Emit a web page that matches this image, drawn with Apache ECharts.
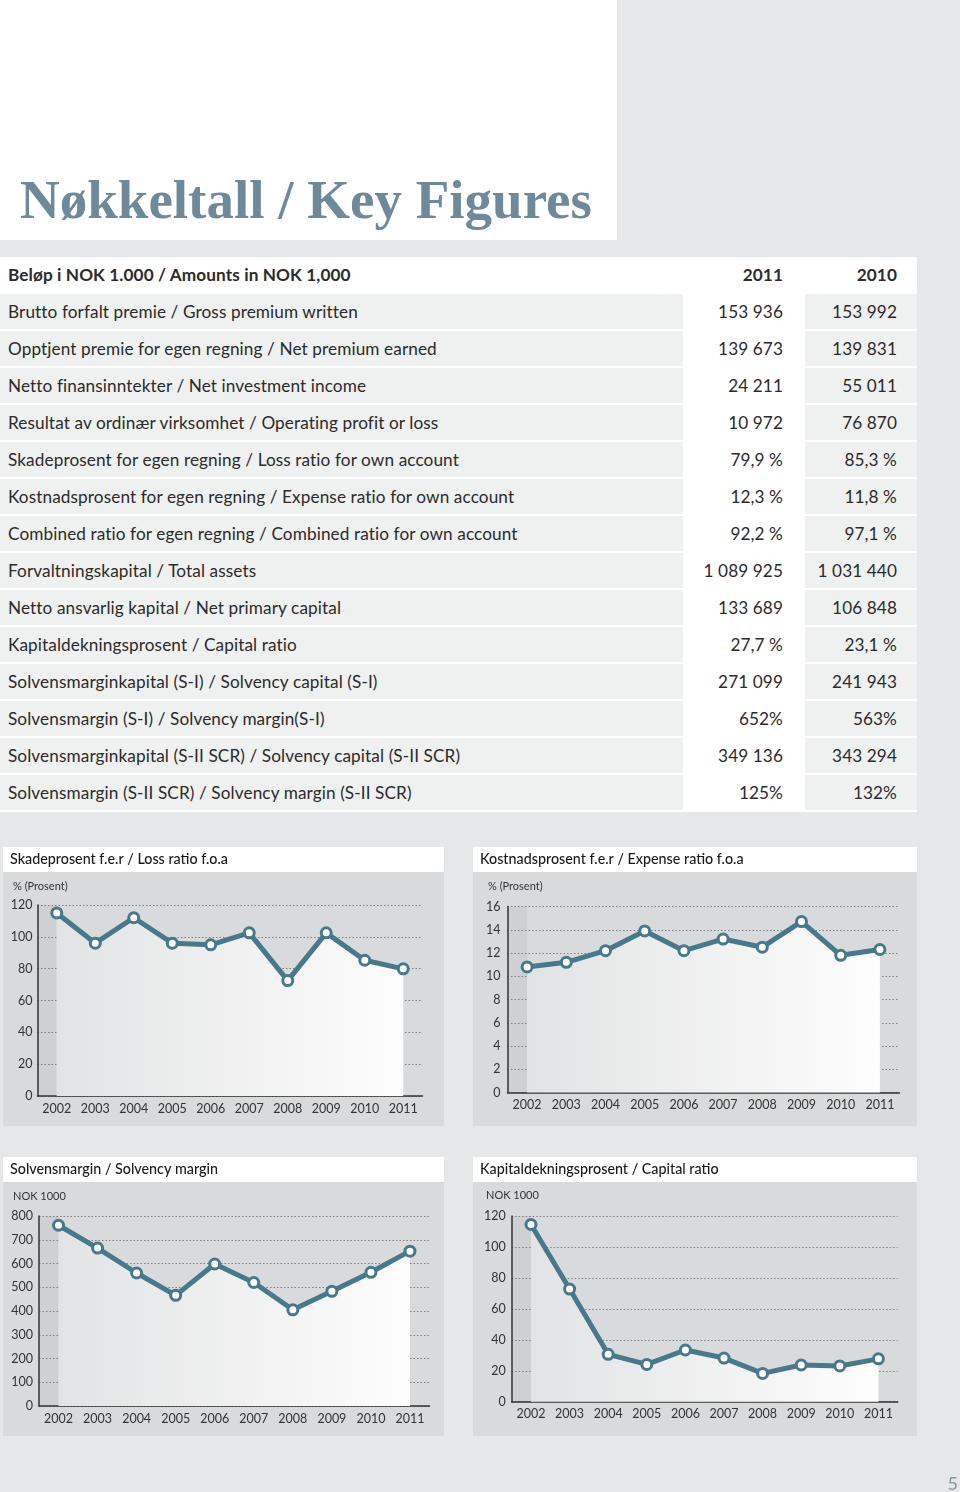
<!DOCTYPE html>
<html>
<head>
<meta charset="utf-8">
<script src="https://cdn.jsdelivr.net/npm/echarts@6/dist/echarts.min.js"></script>
<style>
  html,body{margin:0;padding:0;}
  body{width:960px;height:1492px;background:#e6e7e9;position:relative;overflow:hidden;font-family:Lato,"Open Sans",sans-serif;color:#2b2b2b;}
  #chart{position:absolute;left:0;top:0;width:960px;height:1492px;z-index:1;}
  #titlebox{position:absolute;left:0;top:0;width:617px;height:240px;background:#fff;z-index:2;}
  #titlebox .t{position:absolute;left:20px;top:165px;font:bold 55px "Liberation Serif","DejaVu Serif",serif;color:#6e8a9a;white-space:nowrap;line-height:70px;}
  #table{position:absolute;left:0;top:257px;width:917px;height:555px;background:#fff;z-index:2;}
  .row{position:absolute;left:0;width:917px;height:35px;font-size:17.2px;line-height:35px;letter-spacing:0.1px;}
  .lab{position:absolute;left:0;top:0;width:683px;height:35px;}
  .lab span{position:absolute;left:8px;white-space:nowrap;}
  .c11{position:absolute;left:683px;width:100px;text-align:right;top:0;height:35px;}
  .c10bg{position:absolute;left:805px;width:112px;top:0;height:35px;}
  .c10{position:absolute;left:805px;width:92px;text-align:right;top:0;height:35px;}
  .grey{background:#eff0f0;}
  .hdr{font-weight:bold;}
</style>
</head>
<body>
<div id="chart"></div>
<div id="titlebox"><div class="t">Nøkkeltall / Key Figures</div></div>
<div id="table"></div>
<script>
// ---------- Table data ----------
const headerLabel = 'Beløp i NOK 1.000 / Amounts in NOK 1,000';
const headerYears = ['2011', '2010'];
const rowLabels = [
  'Brutto forfalt premie / Gross premium written',
  'Opptjent premie for egen regning / Net premium earned',
  'Netto finansinntekter / Net investment income',
  'Resultat av ordinær virksomhet / Operating profit or loss',
  'Skadeprosent for egen regning / Loss ratio for own account',
  'Kostnadsprosent for egen regning / Expense ratio for own account',
  'Combined ratio for egen regning / Combined ratio for own account',
  'Forvaltningskapital / Total assets',
  'Netto ansvarlig kapital / Net primary capital',
  'Kapitaldekningsprosent / Capital ratio',
  'Solvensmarginkapital (S-I) / Solvency capital (S-I)',
  'Solvensmargin (S-I) / Solvency margin(S-I)',
  'Solvensmarginkapital (S-II SCR) / Solvency capital (S-II SCR)',
  'Solvensmargin (S-II SCR) / Solvency margin (S-II SCR)'
];
const values2011 = ['153 936','139 673','24 211','10 972','79,9 %','12,3 %','92,2 %','1 089 925','133 689','27,7 %','271 099','652%','349 136','125%'];
const values2010 = ['153 992','139 831','55 011','76 870','85,3 %','11,8 %','97,1 %','1 031 440','106 848','23,1 %','241 943','563%','343 294','132%'];

// ---------- Chart data ----------
const years = ['2002','2003','2004','2005','2006','2007','2008','2009','2010','2011'];
const lossRatio = [115, 96, 112, 96, 95, 102.5, 72.5, 102.5, 85.3, 79.9];
const expenseRatio = [10.8, 11.2, 12.2, 13.9, 12.2, 13.2, 12.5, 14.7, 11.8, 12.3];
const solvencyMargin = [761, 665, 560, 466, 598, 520, 405, 483, 563, 652];
const capitalRatio = [114.5, 72.8, 30.6, 24.1, 33.4, 28.2, 18.3, 23.7, 23.1, 27.7];

const chartTitles = ['Skadeprosent f.e.r / Loss ratio f.o.a','Kostnadsprosent f.e.r / Expense ratio f.o.a','Solvensmargin / Solvency margin','Kapitaldekningsprosent / Capital ratio'];
const unitLabels = ['% (Prosent)','% (Prosent)','NOK 1000','NOK 1000'];

// ---------- Build table ----------
(function(){
  const tb = document.getElementById('table');
  let h = '<div class="row hdr" style="top:0;height:36px;line-height:36px"><div class="lab"><span>'+headerLabel+'</span></div>'+
          '<div class="c11" style="height:36px">'+headerYears[0]+'</div><div class="c10" style="height:36px">'+headerYears[1]+'</div></div>';
  rowLabels.forEach((l,i)=>{
    const top = 37 + 37*i;
    h += '<div class="row" style="top:'+top+'px"><div class="lab grey"><span>'+l+'</span></div>'+
         '<div class="c11">'+values2011[i]+'</div><div class="c10bg grey"></div><div class="c10">'+values2010[i]+'</div></div>';
  });
  tb.innerHTML = h;
})();

// ---------- Charts ----------
const LINE = '#46798c';
const panels = [
  {x:3, y:847, w:441, titleH:25, h:279},
  {x:473, y:847, w:444, titleH:25, h:279},
  {x:3, y:1157, w:441, titleH:25, h:279},
  {x:473, y:1157, w:444, titleH:25, h:279}
];
const grids = [
  {left:37.5, top:905, width:385, height:191},
  {left:507.5, top:906.5, width:392, height:186},
  {left:39, top:1216, width:390.5, height:190},
  {left:511.7, top:1216, width:386, height:185.7}
];
const yCfg = [
  {max:120, interval:20, margin:5},
  {max:16, interval:2, margin:7},
  {max:800, interval:100, margin:6},
  {max:120, interval:20, margin:6}
];
const seriesData = [lossRatio, expenseRatio, solvencyMargin, capitalRatio];
const unitPos = [[13,886],[488,886],[13,1196],[486,1195]];

const chart = echarts.init(document.getElementById('chart'), null, {renderer:'canvas'});

const graphic = [];
panels.forEach((p,i)=>{
  graphic.push({type:'rect', z:-20, shape:{x:p.x, y:p.y, width:p.w, height:p.titleH}, style:{fill:'#ffffff'}});
  graphic.push({type:'rect', z:-20, shape:{x:p.x, y:p.y+p.titleH, width:p.w, height:p.h-p.titleH}, style:{fill:'#d9dadc'}});
  graphic.push({type:'text', z:50, x:p.x+7, y:p.y+p.titleH/2, style:{text:chartTitles[i], fill:'#1a1a1a', font:'500 14.3px Lato', textVerticalAlign:'middle'}});
  graphic.push({type:'text', z:50, x:unitPos[i][0], y:unitPos[i][1], style:{text:unitLabels[i], fill:'#333', font:'11px Lato', textVerticalAlign:'middle'}});
});
graphic.push({type:'text', z:50, x:958, y:1484, style:{text:'5', fill:'#8597a3', font:'18px Lato', textAlign:'right', textVerticalAlign:'middle'}});

const option = {
  animation:false,
  backgroundColor:'transparent',
  textStyle:{fontFamily:'Lato'},
  graphic: graphic,
  grid: grids.map(g=>Object.assign({containLabel:false}, g)),
  xAxis: grids.map((g,i)=>({
    type:'category', gridIndex:i, data:years, boundaryGap:true,
    axisLine:{show:true, lineStyle:{color:'#333', width:1.5}},
    axisTick:{show:false},
    axisLabel:{color:'#333', fontSize:12.5, margin:6, fontFamily:'Lato'},
    splitLine:{show:false}
  })),
  yAxis: yCfg.map((c,i)=>({
    type:'value', gridIndex:i, min:0, max:c.max, interval:c.interval,
    axisLine:{show:true, lineStyle:{color:'#333', width:1.5}},
    axisTick:{show:false},
    axisLabel:{color:'#333', fontSize:12.5, margin:c.margin, fontFamily:'Lato'},
    splitLine:{show:true, lineStyle:{color:'#7f7f7f', type:[1.5,2], width:1}}
  })),
  series: seriesData.map((d,i)=>({
    type:'line', xAxisIndex:i, yAxisIndex:i, data:d, z:5,
    symbol:'circle', symbolSize:10,
    lineStyle:{color:LINE, width:5},
    itemStyle:{color:'#ffffff', borderColor:LINE, borderWidth:3},
    areaStyle:{origin:'start', opacity:1, color:new echarts.graphic.LinearGradient(0,0,1,0,[{offset:0,color:'#e2e3e4'},{offset:1,color:'#fdfdfd'}])}
  }))
};
chart.setOption(option);

// darker strip between y-axis and the first category, computed from the scales
const strips = [];
seriesData.forEach((d,i)=>{
  const pTop = chart.convertToPixel({gridIndex:i}, [years[0], yCfg[i].max]);
  const pBot = chart.convertToPixel({gridIndex:i}, [years[0], 0]);
  const gl = grids[i].left;
  strips.push({type:'rect', z:-10, shape:{x:gl, y:pTop[1], width:pTop[0]-gl, height:pBot[1]-pTop[1]}, style:{fill:'#cfd0d2'}});
});
chart.setOption({graphic: graphic.concat(strips)});
</script>
</body>
</html>
